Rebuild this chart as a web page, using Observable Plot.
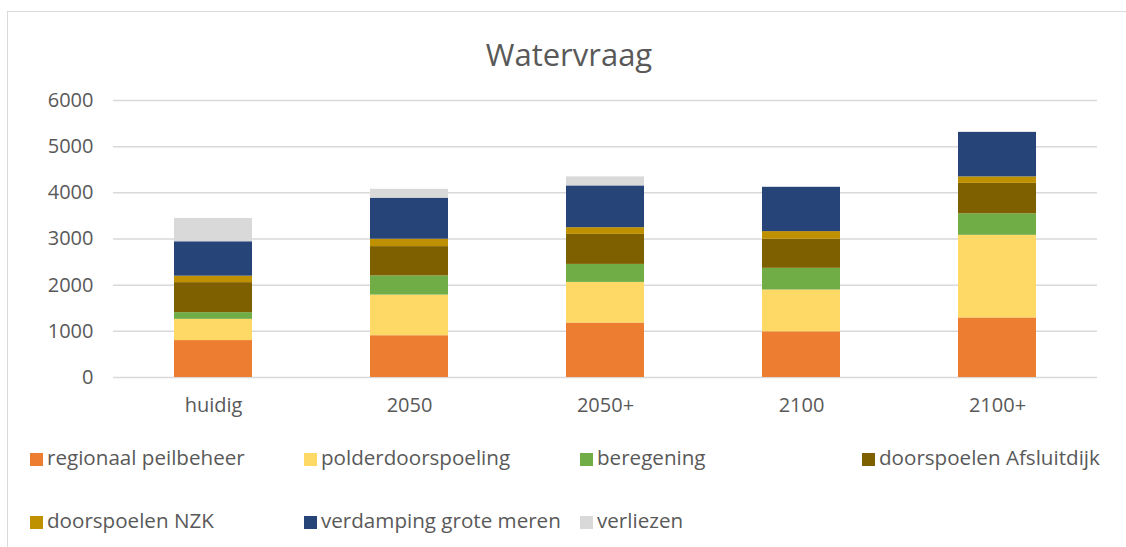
<!DOCTYPE html>
<html>
<head>
<meta charset="utf-8">
<script src="https://cdn.jsdelivr.net/npm/d3@7"></script>
<script src="https://cdn.jsdelivr.net/npm/@observablehq/plot@0.6"></script>
<style>
  html, body { margin: 0; padding: 0; background: #fff; width: 1126px; height: 547px; overflow: hidden; }
  #frame { position: absolute; left: 7px; top: 11px; width: 1140px; height: 560px; border: 1.5px solid #d9d9d9; box-sizing: border-box; }
  #title { position: absolute; left: 0; width: 1138px; top: 33px; text-align: center; font-family: "Open Sans", sans-serif; font-size: 31px; color: #595959; }
  #chart { position: absolute; left: 0; top: 80px; }
  .lg { position: absolute; font-family: "Open Sans", sans-serif; font-size: 20.6px; color: #595959; white-space: nowrap; line-height: 22px; }
  .sw { display: inline-block; width: 13px; height: 13px; margin-right: 4px; vertical-align: -1px; }
</style>
</head>
<body>
<div id="frame"></div>
<div id="title">Watervraag</div>
<div id="chart"></div>
<div id="legend"></div>
<script>
const categories = ["huidig", "2050", "2050+", "2100", "2100+"];
const series = ["regionaal peilbeheer", "polderdoorspoeling", "beregening", "doorspoelen Afsluitdijk", "doorspoelen NZK", "verdamping grote meren", "verliezen"];
const colors = ["#ED7D31", "#FFD966", "#70AD47", "#7F6000", "#BF9000", "#264478", "#D9D9D9"];
const regionaalPeilbeheer   = [800, 905, 1180, 990, 1290];
const polderdoorspoeling    = [460, 880, 880, 905, 1790];
const beregening            = [145, 415, 390, 470, 465];
const doorspoelenAfsluitdijk= [650, 635, 650, 630, 660];
const doorspoelenNZK        = [140, 160, 145, 165, 140];
const verdampingGroteMeren  = [745, 890, 905, 960, 965];
const verliezen             = [505, 190, 195, 0, 0];
const yTicks = [0, 1000, 2000, 3000, 4000, 5000, 6000];

const seriesValues = [regionaalPeilbeheer, polderdoorspoeling, beregening, doorspoelenAfsluitdijk, doorspoelenNZK, verdampingGroteMeren, verliezen];
const data = [];
categories.forEach((c, i) => {
  series.forEach((s, j) => data.push({category: c, series: s, value: seriesValues[j][i]}));
});

const chart = Plot.plot({
  width: 1126,
  height: 340,
  marginLeft: 113,
  marginRight: 29,
  marginTop: 20,
  marginBottom: 43,
  style: {fontFamily: "'Open Sans', sans-serif", fontSize: "20px", color: "#595959", background: "transparent"},
  x: {domain: categories, paddingInner: 0.6, paddingOuter: 0.3, align: 0.5, label: null},
  y: {domain: [0, 6000], label: null},
  color: {domain: series, range: colors},
  marks: [
    Plot.gridY(yTicks, {stroke: "#d9d9d9", strokeOpacity: 1, strokeWidth: 1.5}),
    Plot.barY(data, {x: "category", y: "value", fill: "series", order: series}),
    Plot.axisX({tickSize: 0, tickPadding: 20, fontSize: 20, fill: "#595959"}),
    Plot.axisY({ticks: yTicks, tickFormat: d => String(d), tickSize: 0, tickPadding: 20, fontSize: 20, fill: "#595959"})
  ]
});
document.getElementById("chart").appendChild(chart);

const legend = document.getElementById("legend");
const colX = [30, 304, 580, 862];
const rowY = [446, 509];
series.forEach((s, i) => {
  const d = document.createElement("div");
  d.className = "lg";
  d.style.left = colX[i % 4] + "px";
  d.style.top = rowY[Math.floor(i / 4)] + "px";
  d.innerHTML = `<span class="sw" style="background:${colors[i]}"></span>${s}`;
  legend.appendChild(d);
});
</script>
</body>
</html>
